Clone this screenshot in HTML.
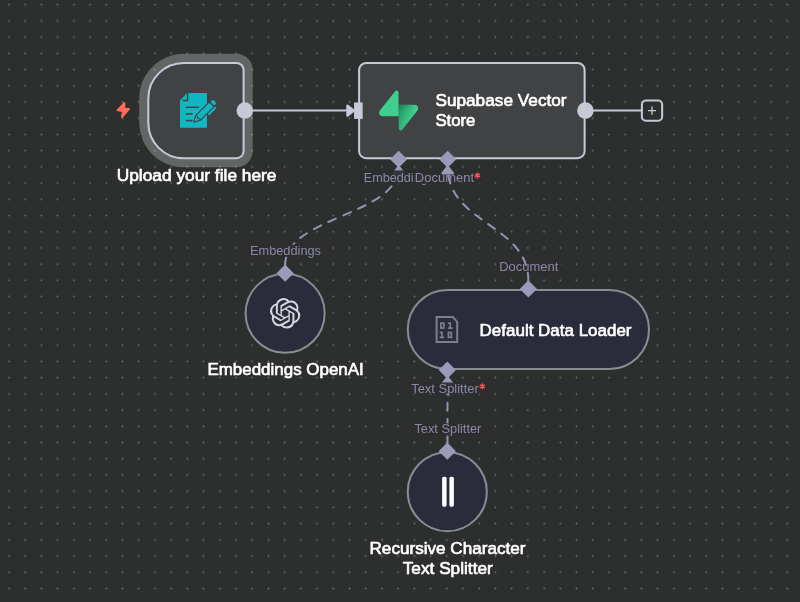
<!DOCTYPE html>
<html lang="en">
<head>
<meta charset="utf-8">
<title>Workflow canvas</title>
<style>
  html, body { margin: 0; padding: 0; background: #2d2e2e; overflow: hidden; }
  body { width: 800px; height: 602px; position: relative; font-family: "Liberation Sans", sans-serif; }
  svg { position: absolute; left: 0; top: 0; display: block; filter: blur(0.35px); }
  text { font-family: "Liberation Sans", sans-serif; }
  .lbl { font-weight: normal; font-size: 17px; fill: #ffffff; stroke: #ffffff; stroke-width: 0.65px; stroke-linejoin: round; }
  .sub { font-size: 12.6px; fill: #8a8aa8; }
  .req { fill: #ff4f60; font-size: 13.6px; }
</style>
</head>
<body>
<svg width="800" height="602" viewBox="0 0 800 602">
  <defs>
    <pattern id="dots" x="0.85" y="-3.42" width="16.216" height="16.216" patternUnits="userSpaceOnUse">
      <circle cx="8.11" cy="8.11" r="0.85" fill="#727272"/>
    </pattern>
    <linearGradient id="sbg" x1="53.9738" y1="54.974" x2="94.1635" y2="71.8295" gradientUnits="userSpaceOnUse">
      <stop offset="0" stop-color="#249361"/><stop offset="1" stop-color="#3ECF8E"/>
    </linearGradient>
    <linearGradient id="sbg2" x1="36.1558" y1="30.578" x2="54.4844" y2="65.0806" gradientUnits="userSpaceOnUse">
      <stop offset="0" stop-color="#000" stop-opacity="1"/><stop offset="1" stop-color="#000" stop-opacity="0"/>
    </linearGradient>
  </defs>

  <!-- canvas background + dot grid -->
  <rect width="800" height="602" fill="#2d2e2e"/>
  <rect width="800" height="602" fill="url(#dots)"/>

  <!-- ============ EDGES (canvas coords) ============ -->
  <g transform="translate(147.3,61.95) scale(1.0135)" fill="none" stroke-linecap="round">
    <!-- main edge trigger -> supabase -->
    <path d="M104 48 H196" stroke="#c7c9d7" stroke-width="2"/>
    <path d="M197.5 43.2 L203.8 48 L197.5 52.8 Z" fill="#c7c9d7" stroke="#c7c9d7" stroke-width="2.4" stroke-linejoin="round"/>
    <!-- supabase output -> plus -->
    <path d="M440 48 H487" stroke="#c7c9d7" stroke-width="2"/>
  </g>

  <!-- dashed AI edges below labels (screen coords) -->
  <g fill="none" stroke="#9293b0" stroke-width="2.03" stroke-linecap="round" stroke-dasharray="8.1 8.1">
    <path d="M285.1 265.2 C285.1 216 398.7 216 398.7 166.9"/>
    <path d="M447.5 443.2 L447.5 377.6"/>
  </g>
  <g fill="#9a9bb9" stroke="#9a9bb9" stroke-width="2.5" stroke-linejoin="round">
    <path d="M398.7 166.9 L403.8 173.2 L393.6 173.2 Z"/>
    <path d="M447.5 377.6 L452.6 383.9 L442.4 383.9 Z"/>
  </g>

  <!-- ============ NODES (canvas coords) ============ -->
  <g transform="translate(147.3,61.95) scale(1.0135)">
    <!-- Trigger node: selection halo -->
    <path d="M36 -8 H88 A16 16 0 0 1 104 8 V88 A16 16 0 0 1 88 104 H36 A44 44 0 0 1 -8 60 V36 A44 44 0 0 1 36 -8 Z" fill="#ffffff" fill-opacity="0.26"/>
    <!-- Trigger node body -->
    <path d="M36 1 H88 A7 7 0 0 1 95 8 V88 A7 7 0 0 1 88 95 H36 A35 35 0 0 1 1 60 V36 A35 35 0 0 1 36 1 Z" fill="#414244" stroke="#c7c9d7" stroke-width="2"/>
    <!-- trigger output handle -->
    <circle cx="96.2" cy="48" r="8.15" fill="#c7c9d7"/>

    <!-- Supabase node -->
    <rect x="209" y="1" width="222.5" height="94" rx="7" ry="7" fill="#414244" stroke="#c7c9d7" stroke-width="2"/>
    <!-- input handle -->
    <rect x="204" y="40" width="8.5" height="16.2" fill="#c7c9d7"/>
    <!-- output handle -->
    <circle cx="432.3" cy="48" r="8.15" fill="#c7c9d7"/>
    <!-- plus button -->
    <rect x="488" y="38" width="20" height="20" rx="4" ry="4" fill="#2d2e2e" stroke="#c7c9d7" stroke-width="2"/>
    <path d="M494 48 H502 M498 44 V52" stroke="#c7c9d7" stroke-width="1.3" fill="none"/>

    <!-- Embeddings OpenAI (circle) -->
    <circle cx="136" cy="248" r="39" fill="#2a2b3b" stroke="#8b8c92" stroke-width="2"/>
    <!-- Default Data Loader (pill) -->
    <rect x="257" y="225" width="238" height="78" rx="39" ry="39" fill="#2a2b3b" stroke="#8b8c92" stroke-width="2"/>
    <!-- Recursive Character Text Splitter (circle) -->
    <circle cx="296" cy="424" r="39" fill="#2a2b3b" stroke="#8b8c92" stroke-width="2"/>

    <!-- diamond handles -->
    <g fill="#9a9bb9">
      <rect x="-6" y="-6" width="12" height="12" transform="translate(248,96) rotate(45)"/>
      <rect x="-6" y="-6" width="12" height="12" transform="translate(296.4,96) rotate(45)"/>
      <rect x="-6" y="-6" width="12" height="12" transform="translate(136,208.4) rotate(45)"/>
      <rect x="-6" y="-6" width="12" height="12" transform="translate(376,224) rotate(45)"/>
      <rect x="-6" y="-6" width="12" height="12" transform="translate(296,304) rotate(45)"/>
      <rect x="-6" y="-6" width="12" height="12" transform="translate(296,384) rotate(45)"/>
    </g>

    <!-- Supabase logo -->
    <g transform="translate(228.7,28) scale(0.354)">
      <path d="M63.7076 110.284C60.8481 113.885 55.0502 111.912 54.9813 107.314L53.9738 40.0627L99.1935 40.0627C107.384 40.0627 111.952 49.5228 106.859 55.9374L63.7076 110.284Z" fill="url(#sbg)"/>
      <path d="M63.7076 110.284C60.8481 113.885 55.0502 111.912 54.9813 107.314L53.9738 40.0627L99.1935 40.0627C107.384 40.0627 111.952 49.5228 106.859 55.9374L63.7076 110.284Z" fill="url(#sbg2)" fill-opacity="0.2"/>
      <path d="M45.317 2.07103C48.1765 -1.53037 53.9745 0.442937 54.0434 5.041L54.4849 72.2922H9.83113C1.64038 72.2922 -2.92775 62.8321 2.1655 56.4175L45.317 2.07103Z" fill="#3ECF8E"/>
    </g>

    <!-- OpenAI logo -->
    <g transform="translate(121,233) scale(1.25)" fill="#d7d8df">
      <path d="M22.2819 9.8211a5.9847 5.9847 0 0 0-.5157-4.9108 6.0462 6.0462 0 0 0-6.5098-2.9A6.0651 6.0651 0 0 0 4.9807 4.1818a5.9847 5.9847 0 0 0-3.9977 2.9 6.0462 6.0462 0 0 0 .7427 7.0966 5.98 5.98 0 0 0 .511 4.9107 6.051 6.051 0 0 0 6.5146 2.9001A5.9847 5.9847 0 0 0 13.2599 24a6.0557 6.0557 0 0 0 5.7718-4.2058 5.9894 5.9894 0 0 0 3.9977-2.9001 6.0557 6.0557 0 0 0-.7475-7.0729zm-9.022 12.6081a4.4755 4.4755 0 0 1-2.8764-1.0408l.1419-.0804 4.7783-2.7582a.7948.7948 0 0 0 .3927-.6813v-6.7369l2.02 1.1686a.071.071 0 0 1 .038.052v5.5826a4.504 4.504 0 0 1-4.4945 4.4944zm-9.6607-4.1254a4.4708 4.4708 0 0 1-.5346-3.0137l.142.0852 4.783 2.7582a.7712.7712 0 0 0 .7806 0l5.8428-3.3685v2.3324a.0804.0804 0 0 1-.0332.0615L9.74 19.9502a4.4992 4.4992 0 0 1-6.1408-1.6464zM2.3408 7.8956a4.485 4.485 0 0 1 2.3655-1.9728V11.6a.7664.7664 0 0 0 .3879.6765l5.8144 3.3543-2.0201 1.1685a.0757.0757 0 0 1-.071 0l-4.8303-2.7865A4.504 4.504 0 0 1 2.3408 7.872zm16.5963 3.8558L13.1038 8.364 15.1192 7.2a.0757.0757 0 0 1 .071 0l4.8303 2.7913a4.4944 4.4944 0 0 1-.6765 8.1042v-5.6772a.79.79 0 0 0-.407-.667zm2.0107-3.0231l-.142-.0852-4.7735-2.7818a.7759.7759 0 0 0-.7854 0L9.409 9.2297V6.8974a.0662.0662 0 0 1 .0284-.0615l4.8303-2.7866a4.4992 4.4992 0 0 1 6.6802 4.66zM8.3065 12.863l-2.02-1.1638a.0804.0804 0 0 1-.038-.0567V6.0742a4.4992 4.4992 0 0 1 7.3757-3.4537l-.142.0805L8.704 5.459a.7948.7948 0 0 0-.3927.6813zm1.0976-2.3654l2.602-1.4998 2.6069 1.4998v2.9994l-2.5974 1.4997-2.6067-1.4997Z"/>
    </g>

    <!-- Text splitter icon (two vertical bars) -->
    <rect x="290.9" y="409.2" width="4.4" height="29.6" rx="1.6" fill="#ffffff"/>
    <rect x="298.1" y="409.2" width="4.4" height="29.6" rx="1.6" fill="#ffffff"/>

  </g>

  <!-- ============ ICONS in screen coords ============ -->
  <!-- Trigger bolt -->
  <path d="M124.4 103.3 L117.7 110.2 L123.3 110.8 L122.1 116.8 L128.8 109.1 L123.8 108.5 Z" fill="#ff6d5a" stroke="#ff6d5a" stroke-width="2.2" stroke-linejoin="round"/>
  <!-- Form trigger icon -->
  <g transform="translate(180,92.9)">
    <path d="M7.2 0 H27 V34.9 H0 V7.6 Z" fill="#0fb8c1"/>
    <path d="M7.6 -0.2 V7.6 H2.4" fill="none" stroke="#414244" stroke-width="1.4"/>
    <path d="M6.4 14.4 H18.2 M6.4 21 H12 M6.4 27.7 H12" stroke="#414244" stroke-width="1.6" fill="none" stroke-linecap="round"/>
    <!-- pencil -->
    <g transform="translate(14.5,28.6) rotate(-45)">
      <path d="M0.3 0 L5.4 -2.6 H23.6 V2.6 H5.4 Z" fill="#0fb8c1" stroke="#414244" stroke-width="2.7" stroke-linejoin="round" paint-order="stroke fill"/>
      <path d="M0.3 0 L5.4 -2.6 H23.6 V2.6 H5.4 Z" fill="#0fb8c1"/>
      <path d="M6 -2.7 L4.8 0 L6 2.7" fill="none" stroke="#414244" stroke-width="1.1"/>
      <rect x="25" y="-2.7" width="3.6" height="5.4" rx="1.7" fill="#0fb8c1"/>
      <rect x="14.6" y="4" width="10.6" height="2" rx="1" fill="#0fb8c1"/>
    </g>
  </g>

  <!-- Binary file icon -->
  <g fill="none" stroke="#7d7f8c" stroke-width="2" stroke-linejoin="miter">
    <path d="M436.6 317.1 H452.8 L457.2 321.9 V341.9 H436.6 Z"/>
  </g>
  <g fill="none" stroke="#7d7f8c" stroke-width="1.7">
    <rect x="440.85" y="323.15" width="2.9" height="4.9"/>
    <path d="M447.90 323.15 H450.20 M450.20 322.30 V328.90 M447.90 328.05 H452.50"/>
    <path d="M439.60 332.45 H441.90 M441.90 331.60 V338.20 M439.60 337.35 H444.20"/>
    <rect x="448.45" y="332.45" width="2.9" height="4.9"/>
  </g>

  <!-- ============ TEXT ============ -->
  <!-- handle labels with translucent background -->
  <rect x="361.8" y="170.4" width="73.5" height="13.4" fill="#2d2e2e" fill-opacity="0.92"/>
  <text class="sub" x="363.75" y="182">Embedding<tspan class="req">*</tspan></text>
  <rect x="413.4" y="171.5" width="68.8" height="12.3" fill="#2d2e2e" fill-opacity="0.88"/>
  <text class="sub" x="414.85" y="182" textLength="59.2" lengthAdjust="spacingAndGlyphs">Document</text>
  <path d="M477.50 173.05 L477.50 177.95 M475.38 174.28 L479.62 176.72 M479.62 174.28 L475.38 176.72" stroke="#ff4f5e" stroke-width="1.5" stroke-linecap="round" fill="none"/>

  <rect x="248" y="244.5" width="75" height="12.3" fill="#2d2e2e" fill-opacity="0.9"/>
  <text class="sub" x="250" y="255" textLength="71" lengthAdjust="spacingAndGlyphs">Embeddings</text>

  <rect x="497.7" y="260.9" width="63" height="12.3" fill="#2d2e2e" fill-opacity="0.9"/>
  <text class="sub" x="499.2" y="271.4" textLength="59.2" lengthAdjust="spacingAndGlyphs">Document</text>

  <rect x="409.3" y="382.4" width="77.5" height="11.2" fill="#2d2e2e" fill-opacity="0.9"/>
  <text class="sub" x="411.2" y="393.1" textLength="67.6" lengthAdjust="spacingAndGlyphs">Text Splitter</text>
  <path d="M482.40 383.95 L482.40 388.85 M480.28 385.17 L484.52 387.62 M484.52 385.17 L480.28 387.62" stroke="#ff4f5e" stroke-width="1.5" stroke-linecap="round" fill="none"/>

  <rect x="412.4" y="423.4" width="71" height="12.3" fill="#2d2e2e" fill-opacity="0.9"/>
  <text class="sub" x="414.4" y="432.8" textLength="67" lengthAdjust="spacingAndGlyphs">Text Splitter</text>

  <!-- AI edge drawn above labels (Data Loader -> Supabase) -->
  <g fill="none" stroke="#9293b0" stroke-width="2.03" stroke-linecap="round" stroke-dasharray="8.1 8.1">
    <path d="M528.4 281 C528.4 224 447.7 224 447.7 166.9"/>
  </g>
  <path d="M447.7 166.9 L452.8 173.2 L442.6 173.2 Z" fill="#9a9bb9" stroke="#9a9bb9" stroke-width="2.5" stroke-linejoin="round"/>

  <!-- node labels -->
  <text class="lbl" x="116.7" y="181" textLength="159.8" lengthAdjust="spacingAndGlyphs">Upload your file here</text>
  <text class="lbl" x="435.4" y="106" textLength="131.2" lengthAdjust="spacingAndGlyphs">Supabase Vector</text>
  <text class="lbl" x="435.4" y="126.3" textLength="40" lengthAdjust="spacingAndGlyphs">Store</text>
  <text class="lbl" x="207.4" y="375.4" textLength="156.4" lengthAdjust="spacingAndGlyphs">Embeddings OpenAI</text>
  <text class="lbl" x="479.6" y="336" textLength="151.9" lengthAdjust="spacingAndGlyphs">Default Data Loader</text>
  <text class="lbl" x="369.5" y="554.1" textLength="156" lengthAdjust="spacingAndGlyphs">Recursive Character</text>
  <text class="lbl" x="402.75" y="573.8" textLength="90" lengthAdjust="spacingAndGlyphs">Text Splitter</text>
</svg>
</body>
</html>
